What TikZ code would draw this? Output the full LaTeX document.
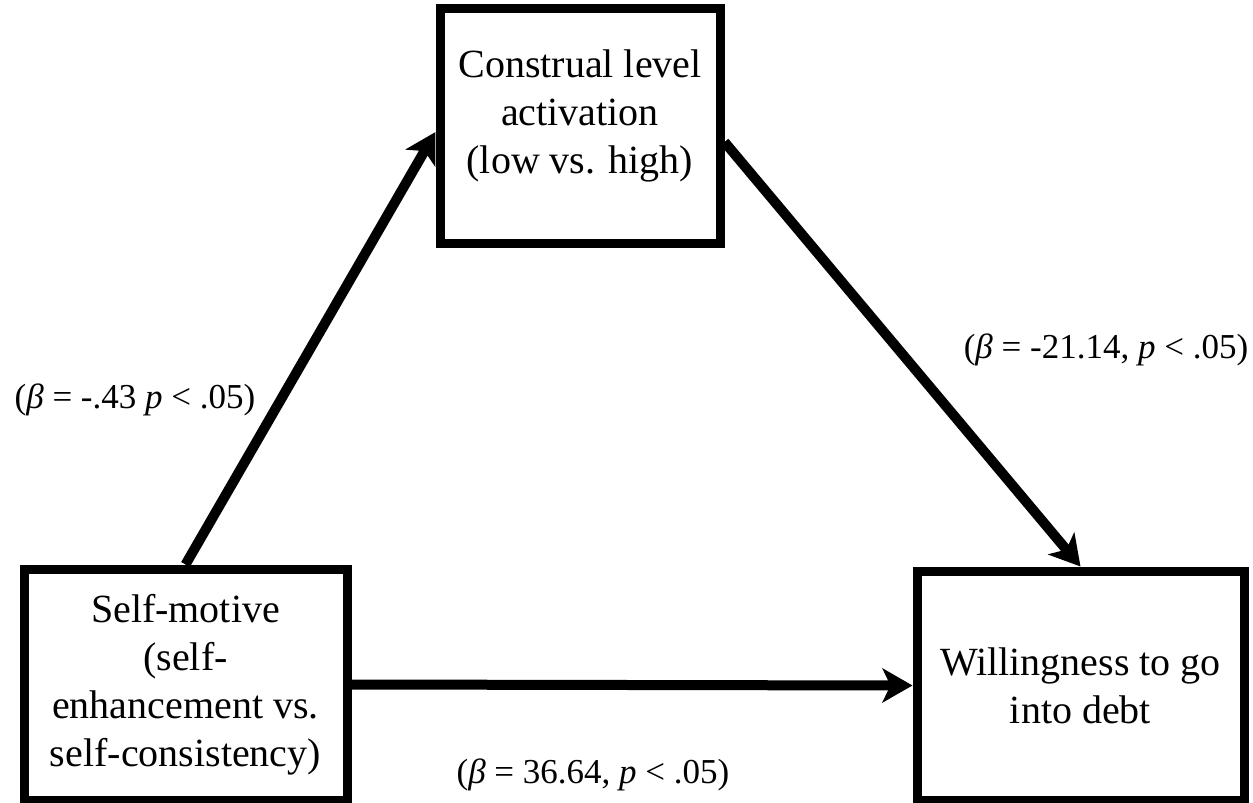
\documentclass[tikz,border=0pt]{standalone}
\usepackage{fontspec}
\setmainfont{Liberation Serif}
\usetikzlibrary{arrows.meta}
\begin{document}
\begin{tikzpicture}[x=0.5pt,y=-0.5pt,
  box/.style={draw=black,line width=4.5pt,fill=white,inner sep=0pt},
  txt/.style={align=center,font=\fontsize{20pt}{24pt}\selectfont,inner sep=0pt},
  lbl/.style={font=\fontsize{17.5pt}{21pt}\selectfont,inner sep=0pt},
  arr/.style={line width=5pt,-{Stealth[length=15pt,width=17pt,inset=4pt]}}]
\useasboundingbox[fill=white] (0,0) rectangle (1253,803);
\node[box,minimum width=140pt,minimum height=117.5pt] (cl) at (580,126) {};
\node[txt] (clt) at ([yshift=5pt]cl.center) {Construal level\\activation\\(low vs. high)};
\node[box,txt,minimum width=161.5pt,minimum height=115.5pt] (sm) at (185.5,684.5) {Self-motive\\(self-\\enhancement vs.\\self-consistency)};
\node[box,txt,minimum width=163.5pt,minimum height=114.5pt] (wd) at (1080.5,685.5) {Willingness to go\\into debt};
\coordinate (clr) at ([yshift=-8pt]cl.east);
\draw[arr] (sm.north) -- ([yshift=-3pt]cl.west);
\draw[arr] (clr) -- (wd.north);
\draw[arr] (sm.east) -- (wd.west);
\node[lbl] (l1) at (135,400) {(\textit{β} = -.43 \textit{p} < .05)};
\node[lbl] (l2) at (1106,350) {(\textit{β} = -21.14, \textit{p} < .05)};
\node[lbl] (l3) at (593,775) {(\textit{β} = 36.64, \textit{p} < .05)};
\end{tikzpicture}
\end{document}
